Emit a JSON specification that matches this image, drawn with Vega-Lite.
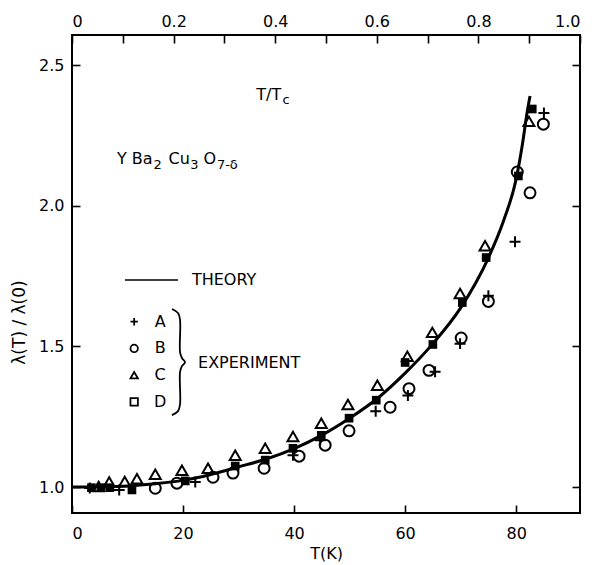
{
  "$schema": "https://vega.github.io/schema/vega-lite/v6.json",
  "autosize": {"type": "none"},
  "padding": {"left": 72, "top": 35, "right": 12, "bottom": 52},
  "width": 508,
  "height": 478,
  "background": "white",
  "config": {
    "view": {"stroke": "black", "strokeWidth": 2},
    "font": "DejaVu Sans",
    "axis": {
      "domain": false,
      "grid": false,
      "tickColor": "black",
      "tickWidth": 1.6,
      "labelColor": "black",
      "titleColor": "black",
      "labelFont": "DejaVu Sans",
      "titleFont": "DejaVu Sans",
      "labelFontSize": 16,
      "titleFontSize": 16,
      "titleFontWeight": "normal"
    }
  },
  "datasets": {
    "theory": [
      {"T": 0, "v": 1.0}, {"T": 5, "v": 1.001}, {"T": 10, "v": 1.004}, {"T": 15, "v": 1.012},
      {"T": 20, "v": 1.024}, {"T": 25, "v": 1.045}, {"T": 30, "v": 1.072}, {"T": 35, "v": 1.1},
      {"T": 40, "v": 1.137}, {"T": 45, "v": 1.185}, {"T": 50, "v": 1.245}, {"T": 55, "v": 1.315},
      {"T": 60, "v": 1.405}, {"T": 65, "v": 1.51}, {"T": 70, "v": 1.637}, {"T": 75, "v": 1.815},
      {"T": 77.7, "v": 1.945}, {"T": 80, "v": 2.095}, {"T": 81.1, "v": 2.215}, {"T": 82, "v": 2.335},
      {"T": 82.5, "v": 2.39}
    ],
    "expt": [
      {"series": "A", "T": 3.2, "v": 0.997}, {"series": "A", "T": 8.5, "v": 0.99},
      {"series": "A", "T": 22.2, "v": 1.018}, {"series": "A", "T": 39.8, "v": 1.113},
      {"series": "A", "T": 44.7, "v": 1.167}, {"series": "A", "T": 54.7, "v": 1.27},
      {"series": "A", "T": 60.5, "v": 1.326}, {"series": "A", "T": 65.4, "v": 1.41},
      {"series": "A", "T": 69.9, "v": 1.51}, {"series": "A", "T": 75.0, "v": 1.68},
      {"series": "A", "T": 79.8, "v": 1.872}, {"series": "A", "T": 85.0, "v": 2.33},
      {"series": "B", "T": 15.0, "v": 0.996}, {"series": "B", "T": 18.9, "v": 1.014},
      {"series": "B", "T": 25.4, "v": 1.035}, {"series": "B", "T": 29.0, "v": 1.05},
      {"series": "B", "T": 34.6, "v": 1.067}, {"series": "B", "T": 40.9, "v": 1.11},
      {"series": "B", "T": 45.6, "v": 1.149}, {"series": "B", "T": 49.9, "v": 1.2},
      {"series": "B", "T": 57.3, "v": 1.284}, {"series": "B", "T": 60.7, "v": 1.35},
      {"series": "B", "T": 64.3, "v": 1.415}, {"series": "B", "T": 70.1, "v": 1.53},
      {"series": "B", "T": 75.0, "v": 1.66}, {"series": "B", "T": 80.2, "v": 2.12},
      {"series": "B", "T": 82.5, "v": 2.046}, {"series": "B", "T": 84.9, "v": 2.29},
      {"series": "C", "T": 4.8, "v": 1.002}, {"series": "C", "T": 6.7, "v": 1.018},
      {"series": "C", "T": 9.5, "v": 1.02}, {"series": "C", "T": 11.7, "v": 1.03},
      {"series": "C", "T": 15.0, "v": 1.046}, {"series": "C", "T": 19.8, "v": 1.06},
      {"series": "C", "T": 24.5, "v": 1.067}, {"series": "C", "T": 29.4, "v": 1.113},
      {"series": "C", "T": 34.8, "v": 1.138}, {"series": "C", "T": 39.8, "v": 1.18},
      {"series": "C", "T": 44.9, "v": 1.227}, {"series": "C", "T": 49.7, "v": 1.294},
      {"series": "C", "T": 55.0, "v": 1.362}, {"series": "C", "T": 60.4, "v": 1.465},
      {"series": "C", "T": 64.9, "v": 1.55}, {"series": "C", "T": 69.9, "v": 1.688},
      {"series": "C", "T": 74.4, "v": 1.858}, {"series": "C", "T": 82.3, "v": 2.3},
      {"series": "D", "T": 3.5, "v": 0.998}, {"series": "D", "T": 5.2, "v": 0.998},
      {"series": "D", "T": 6.8, "v": 0.998}, {"series": "D", "T": 10.8, "v": 0.99},
      {"series": "D", "T": 20.4, "v": 1.022}, {"series": "D", "T": 29.4, "v": 1.075},
      {"series": "D", "T": 34.8, "v": 1.096}, {"series": "D", "T": 39.8, "v": 1.138},
      {"series": "D", "T": 44.9, "v": 1.184}, {"series": "D", "T": 49.9, "v": 1.245},
      {"series": "D", "T": 54.8, "v": 1.309}, {"series": "D", "T": 60.0, "v": 1.443},
      {"series": "D", "T": 65.0, "v": 1.507}, {"series": "D", "T": 70.3, "v": 1.656},
      {"series": "D", "T": 74.6, "v": 1.816}, {"series": "D", "T": 80.4, "v": 2.106},
      {"series": "D", "T": 82.9, "v": 2.344}
    ],
    "key": [
      {"series": "A", "T": 11.2, "v": 1.588},
      {"series": "B", "T": 11.2, "v": 1.493},
      {"series": "C", "T": 11.2, "v": 1.398},
      {"series": "D", "T": 11.2, "v": 1.303}
    ],
    "keyline": [{"T": 9.55, "v": 1.736}, {"T": 19.1, "v": 1.736}],
    "brace": [
      {"i": 0, "T": 18.0, "v": 1.633}, {"i": 1, "T": 19.1, "v": 1.619},
      {"i": 2, "T": 19.46, "v": 1.594}, {"i": 3, "T": 19.46, "v": 1.48},
      {"i": 4, "T": 19.8, "v": 1.459}, {"i": 5, "T": 20.36, "v": 1.444},
      {"i": 6, "T": 19.8, "v": 1.43}, {"i": 7, "T": 19.46, "v": 1.409},
      {"i": 8, "T": 19.46, "v": 1.295}, {"i": 9, "T": 19.1, "v": 1.27},
      {"i": 10, "T": 18.0, "v": 1.256}
    ],
    "notes": [
      {"text": "THEORY", "T": 21.6, "v": 1.736},
      {"text": "EXPERIMENT", "T": 22.7, "v": 1.441},
      {"text": "T/T", "T": 33.2, "v": 2.395},
      {"text": "Y Ba", "T": 8.1, "v": 2.165},
      {"text": "Cu", "T": 17.4, "v": 2.165},
      {"text": "O", "T": 23.7, "v": 2.165}
    ],
    "subs": [
      {"text": "c", "T": 37.9, "v": 2.377},
      {"text": "2", "T": 14.7, "v": 2.146},
      {"text": "3", "T": 21.3, "v": 2.146},
      {"text": "7-δ", "T": 26.1, "v": 2.146}
    ],
    "topaxis": [{"t": 0, "v": 1.0}, {"t": 1, "v": 2.0}]
  },
  "layer": [
    {
      "encoding": {
        "x": {
          "field": "T", "type": "quantitative",
          "scale": {"domain": [0, 91.5], "nice": false, "zero": false},
          "axis": {
            "title": "T(K)", "values": [0, 20, 40, 60, 80],
            "tickSize": -8, "labelPadding": 20, "titlePadding": 4
          }
        },
        "y": {
          "field": "v", "type": "quantitative",
          "scale": {"domain": [0.908, 2.607], "nice": false, "zero": false},
          "axis": {
            "title": "λ(T) / λ(0)", "titleFontSize": 17, "values": [1.0, 1.5, 2.0, 2.5], "format": ".1f",
            "tickSize": -8, "labelPadding": 16, "titlePadding": 10, "titleY": 287
          }
        }
      },
      "layer": [
        {
          "data": {"name": "theory"},
          "mark": {"type": "line", "color": "black", "strokeWidth": 3, "interpolate": "monotone"}
        },
        {
          "data": {"name": "expt"},
          "transform": [{"filter": "datum.series !== 'D'"}],
          "mark": {"type": "point", "filled": false, "stroke": "black", "strokeWidth": 2, "size": 120, "opacity": 1},
          "encoding": {
            "shape": {
              "field": "series", "type": "nominal",
              "scale": {"domain": ["A", "B", "C", "D"], "range": ["M-1,0H1M0,-1V1", "circle", "triangle-up", "square"]},
              "legend": null
            }
          }
        },
        {
          "data": {"name": "expt"},
          "transform": [{"filter": "datum.series === 'D'"}],
          "mark": {"type": "square", "filled": true, "color": "black", "size": 75, "opacity": 1}
        },
        {
          "data": {"name": "key"},
          "mark": {"type": "point", "filled": false, "stroke": "black", "strokeWidth": 1.8, "size": 55, "opacity": 1},
          "encoding": {
            "shape": {"field": "series", "type": "nominal", "legend": null}
          }
        },
        {
          "data": {"name": "key"},
          "mark": {"type": "text", "dx": 26, "align": "center", "baseline": "middle", "fontSize": 16, "font": "DejaVu Sans", "color": "black"},
          "encoding": {"text": {"field": "series"}}
        },
        {
          "data": {"name": "keyline"},
          "mark": {"type": "line", "color": "black", "strokeWidth": 1.5},
          "encoding": {}
        },
        {
          "data": {"name": "brace"},
          "mark": {"type": "line", "color": "black", "strokeWidth": 1.8, "interpolate": "catmull-rom"},
          "encoding": {"order": {"field": "i", "type": "quantitative"}}
        },
        {
          "data": {"name": "notes"},
          "mark": {"type": "text", "align": "left", "baseline": "middle", "fontSize": 16, "font": "DejaVu Sans", "color": "black"},
          "encoding": {"text": {"field": "text"}}
        },
        {
          "data": {"name": "subs"},
          "mark": {"type": "text", "align": "left", "baseline": "middle", "fontSize": 13, "font": "DejaVu Sans", "color": "black"},
          "encoding": {"text": {"field": "text"}}
        }
      ]
    },
    {
      "data": {"name": "topaxis"},
      "mark": {"type": "point", "opacity": 0},
      "encoding": {
        "x": {
          "field": "t", "type": "quantitative",
          "scale": {"domain": [0, 1], "nice": false, "zero": false},
          "axis": {
            "orient": "top", "title": null,
            "values": [0, 0.1, 0.2, 0.3, 0.4, 0.5, 0.6, 0.7, 0.8, 0.9, 1.0],
            "labelExpr": "datum.value == 0 ? '0' : (round(datum.value * 10) % 2 == 0 ? format(datum.value, '.1f') : '')",
            "tickSize": -8, "labelPadding": 14
          }
        },
        "y": {
          "field": "v", "type": "quantitative",
          "scale": {"domain": [0.908, 2.607], "nice": false, "zero": false},
          "axis": {"orient": "right", "title": null, "labels": false, "values": [1.0, 1.5, 2.0, 2.5], "tickSize": -8}
        }
      }
    }
  ],
  "resolve": {"scale": {"x": "independent", "y": "independent"}}
}
